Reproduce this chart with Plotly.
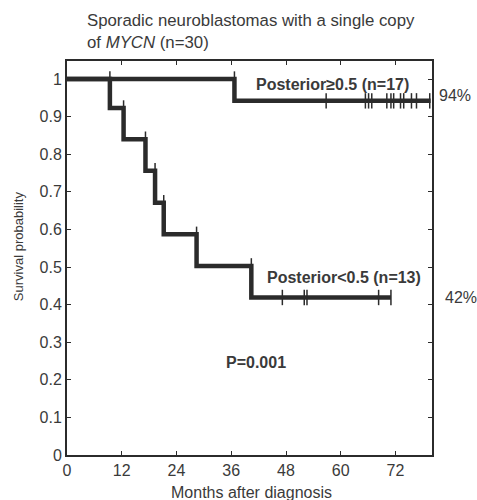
import plotly.graph_objects as go

# Data
months_low = [0, 9.4, 12.4, 17.2, 19.3, 21.2, 28.4, 40.4, 71]
surv_low = [1.0, 0.923, 0.840, 0.756, 0.671, 0.587, 0.503, 0.419, 0.419]
censor_low = [47.2, 52.0, 52.6, 68.3, 71.0]

months_high = [0, 36.7, 79.7]
surv_high = [1.0, 0.942, 0.942]
censor_high = [56.8, 65.4, 66.1, 66.8, 70.1, 71.0, 71.6, 73.1, 73.8, 75.5, 76.6, 79.5]

x_ticks = [0, 12, 24, 36, 48, 60, 72]
y_ticks = [0, 0.1, 0.2, 0.3, 0.4, 0.5, 0.6, 0.7, 0.8, 0.9, 1]

LINE = "#2b2b2b"
TEXT = "#3a3a3a"
FONT = "Liberation Sans, Arial, sans-serif"

fig = go.Figure()

for t, s in [(months_high, surv_high), (months_low, surv_low)]:
    fig.add_trace(go.Scatter(x=t, y=s, mode="lines", line=dict(shape="hv", color=LINE, width=4.5),
                             showlegend=False, hoverinfo="skip", cliponaxis=False))

def level_at(t, times, surv):
    v = surv[0]
    for ti, si in zip(times, surv):
        if ti <= t:
            v = si
    return v

tick_marker = dict(symbol="line-ns", size=11, line=dict(color=LINE, width=1.5))
fig.add_trace(go.Scatter(x=censor_low, y=[level_at(c, months_low, surv_low) for c in censor_low],
                         mode="markers", marker=tick_marker, showlegend=False, hoverinfo="skip"))
fig.add_trace(go.Scatter(x=censor_high, y=[level_at(c, months_high, surv_high) for c in censor_high],
                         mode="markers", marker=tick_marker, showlegend=False, hoverinfo="skip"))
step_t = months_low[1:-1] + months_high[1:-1]
step_y = surv_low[:-2] + surv_high[:-2]
fig.add_trace(go.Scatter(x=step_t, y=step_y, mode="markers", marker=tick_marker,
                         showlegend=False, hoverinfo="skip"))

axis_common = dict(showline=True, linecolor=LINE, linewidth=2, mirror="ticks", ticks="inside",
                   ticklen=4, tickcolor=LINE, showgrid=False, zeroline=False, automargin=False,
                   tickfont=dict(family=FONT, size=16, color=TEXT))

fig.update_xaxes(range=[0, 80], tickvals=x_ticks, ticktext=[str(v) for v in x_ticks], **axis_common)
fig.update_yaxes(range=[0, 1.048], tickvals=y_ticks, ticktext=[f"{v:g}" for v in y_ticks], **axis_common)

ann_font = dict(family=FONT, size=16, color=TEXT)
fig.add_annotation(x=58.3, y=0.986, text="<b>Posterior≥0.5 (n=17)</b>", showarrow=False, font=ann_font)
fig.add_annotation(x=60.7, y=0.473, text="<b>Posterior<0.5 (n=13)</b>", showarrow=False, font=ann_font)
fig.add_annotation(x=41.5, y=0.247, text="<b>P=0.001</b>", showarrow=False, font=ann_font)
fig.add_annotation(xref="paper", x=1.013, y=0.956, xanchor="left", text="94%", showarrow=False, font=ann_font)
fig.add_annotation(xref="paper", x=1.03, y=0.42, xanchor="left", text="42%", showarrow=False, font=ann_font)

fig.add_annotation(xref="paper", yref="paper", x=0.505, y=0, yshift=-37, yanchor="middle",
                   text="Months after diagnosis", showarrow=False,
                   font=dict(family=FONT, size=16, color=TEXT))
fig.add_annotation(xref="paper", yref="paper", x=0, xshift=-49, y=0.53, xanchor="center", textangle=-90,
                   text="Survival probability", showarrow=False,
                   font=dict(family=FONT, size=13, color=TEXT))

fig.add_annotation(xref="paper", yref="paper", x=0.048, y=1.0, yanchor="bottom", xanchor="left", align="left",
                   text="Sporadic neuroblastomas with a single copy<br>of <i>MYCN</i> (n=30)",
                   showarrow=False, font=dict(family=FONT, size=16.8, color=TEXT), yshift=7)

fig.update_layout(width=477, height=500, margin=dict(l=67, r=45, t=61, b=45),
                  plot_bgcolor="white", paper_bgcolor="white")

fig.write_html("out.html", config={"displayModeBar": False},
               post_script="document.body.style.margin='0px';document.body.style.overflow='hidden';")
